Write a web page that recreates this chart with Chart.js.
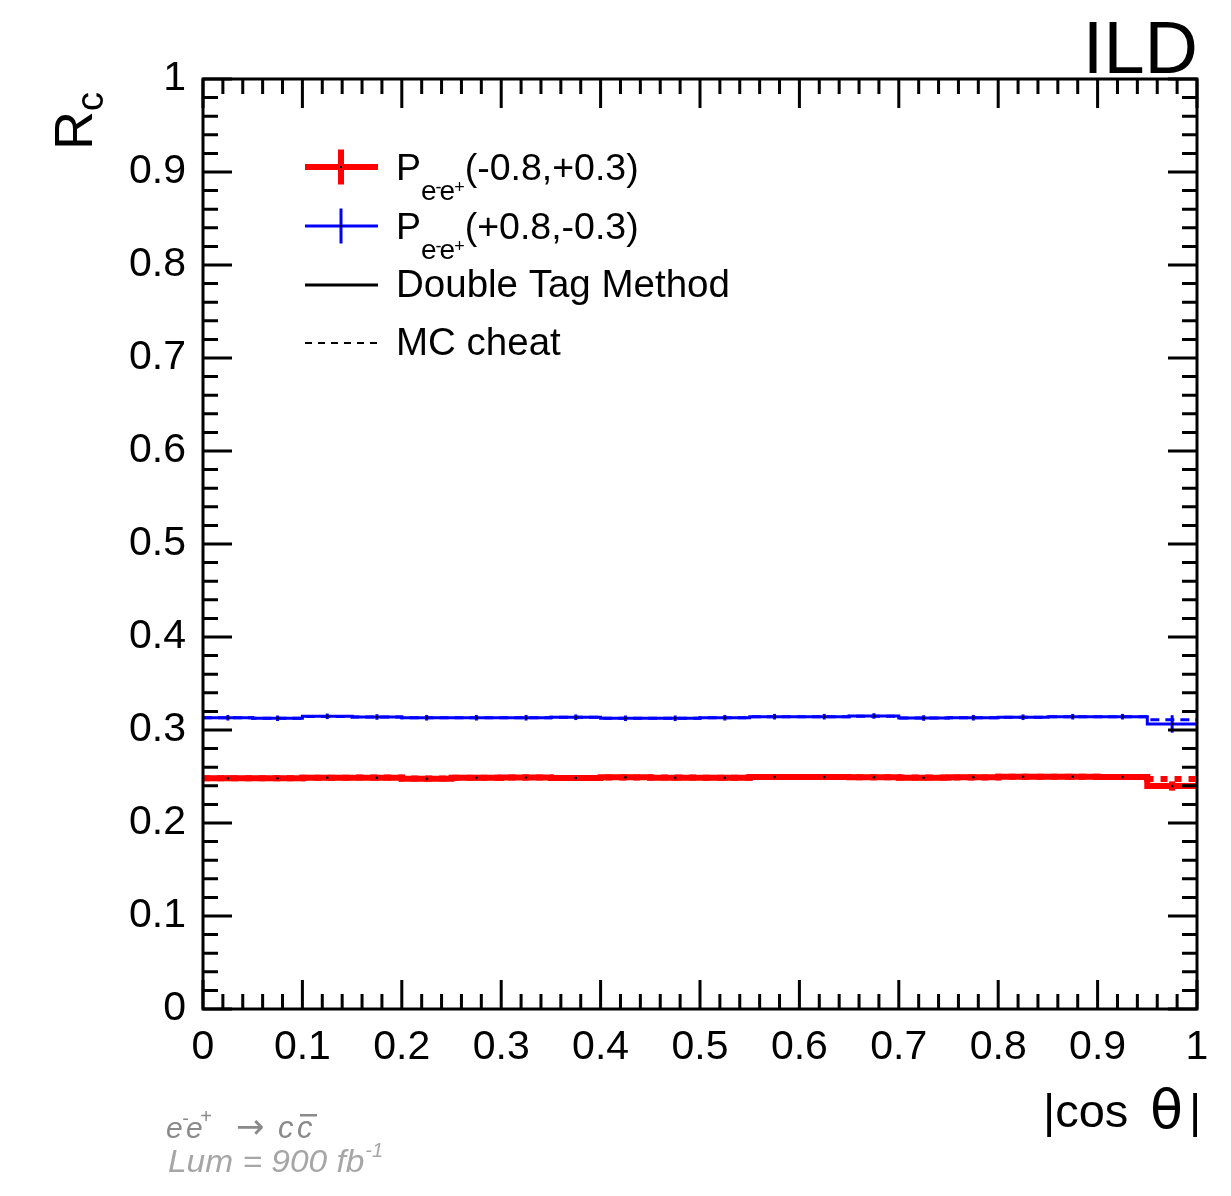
<!DOCTYPE html>
<html>
<head>
<meta charset="utf-8">
<title>R_c vs |cos theta|</title>
<script src="https://cdn.jsdelivr.net/npm/chart.js@4.4.1/dist/chart.umd.min.js"></script>
<style>
  html, body { margin: 0; padding: 0; background: #ffffff; }
  canvas { display: block; }
</style>
</head>
<body>
<canvas id="rcChart" width="1231" height="1196"></canvas>
<script>
// ---- binning in |cos theta| (lower bin edges + last upper edge) ----
const binLowEdges = [0.00, 0.05, 0.10, 0.15, 0.20, 0.25, 0.30, 0.35, 0.40, 0.45,
                     0.50, 0.55, 0.60, 0.65, 0.70, 0.75, 0.80, 0.85, 0.90, 0.95];
const binUpperEdge = 1.00;

// ---- P(e-e+) = (-0.8,+0.3) ----
const rcLeftDoubleTag = [0.2481, 0.2481, 0.2487, 0.2487, 0.2476, 0.2487, 0.2490, 0.2484, 0.2491, 0.2487,
                         0.2487, 0.2495, 0.2495, 0.2491, 0.2487, 0.2491, 0.2498, 0.2498, 0.2495, 0.2398];
const rcLeftMCCheat   = [0.2482, 0.2480, 0.2486, 0.2488, 0.2478, 0.2486, 0.2489, 0.2485, 0.2490, 0.2488,
                         0.2486, 0.2494, 0.2494, 0.2492, 0.2488, 0.2490, 0.2497, 0.2497, 0.2494, 0.2473];
const rcLeftError     = [0.0030, 0.0030, 0.0030, 0.0030, 0.0030, 0.0030, 0.0030, 0.0030, 0.0030, 0.0030,
                         0.0030, 0.0030, 0.0030, 0.0030, 0.0030, 0.0030, 0.0030, 0.0030, 0.0030, 0.0050];

// ---- P(e-e+) = (+0.8,-0.3) ----
const rcRightDoubleTag = [0.3132, 0.3126, 0.3147, 0.3140, 0.3132, 0.3132, 0.3132, 0.3137, 0.3126, 0.3126,
                          0.3132, 0.3143, 0.3143, 0.3151, 0.3129, 0.3132, 0.3137, 0.3143, 0.3143, 0.3065];
const rcRightMCCheat   = [0.3133, 0.3127, 0.3145, 0.3139, 0.3133, 0.3131, 0.3133, 0.3136, 0.3127, 0.3127,
                          0.3133, 0.3142, 0.3142, 0.3149, 0.3130, 0.3133, 0.3136, 0.3142, 0.3142, 0.3111];
const rcRightError     = [0.0030, 0.0030, 0.0030, 0.0030, 0.0030, 0.0030, 0.0030, 0.0030, 0.0030, 0.0030,
                          0.0030, 0.0030, 0.0030, 0.0030, 0.0030, 0.0030, 0.0030, 0.0030, 0.0030, 0.0094];

// ---- axis tick labels ----
const xTickValues = [0, 0.1, 0.2, 0.3, 0.4, 0.5, 0.6, 0.7, 0.8, 0.9, 1];
const yTickValues = [0, 0.1, 0.2, 0.3, 0.4, 0.5, 0.6, 0.7, 0.8, 0.9, 1];
const minorDivisions = 5;

const FONT = '"Liberation Sans", Arial, Helvetica, sans-serif';
const RED = '#ff0000';
const BLUE = '#0000ff';

function binEdge(i) { return i + 1 < binLowEdges.length ? binLowEdges[i + 1] : binUpperEdge; }
function binCenter(i) { return (binLowEdges[i] + binEdge(i)) / 2; }

// step outline of a histogram: one point per lower edge, closing at the upper edge
function stepPoints(values) {
  const pts = binLowEdges.map((x, i) => ({ x: x, y: values[i] }));
  pts.push({ x: binUpperEdge, y: values[values.length - 1] });
  return pts;
}
function centerPoints(values) {
  return binLowEdges.map((x, i) => ({ x: binCenter(i), y: values[i] }));
}

// vertical error bars at bin centres
const errorBarPlugin = {
  id: 'errorBars',
  beforeDatasetsDraw(chart) {
    const { ctx, scales: { x, y } } = chart;
    const series = [
      { v: rcLeftDoubleTag, e: rcLeftError, color: RED, w: 6 },
      { v: rcRightDoubleTag, e: rcRightError, color: BLUE, w: 3 }
    ];
    ctx.save();
    series.forEach(s => {
      ctx.strokeStyle = s.color;
      ctx.lineWidth = s.w;
      s.v.forEach((val, i) => {
        const px = x.getPixelForValue(binCenter(i));
        ctx.beginPath();
        ctx.moveTo(px, y.getPixelForValue(val - s.e[i]));
        ctx.lineTo(px, y.getPixelForValue(val + s.e[i]));
        ctx.stroke();
      });
    });
    ctx.restore();
  }
};

// frame with inward ticks on all four sides
const framePlugin = {
  id: 'frame',
  afterDatasetsDraw(chart) {
    const { ctx, chartArea: a, scales: { x, y } } = chart;
    const majorLen = 29, minorLen = 15;
    ctx.save();
    ctx.strokeStyle = '#000';
    ctx.lineWidth = 3;
    ctx.lineCap = 'butt';
    ctx.beginPath();
    for (let k = 0; k < xTickValues.length; k++) {
      const v = xTickValues[k];
      const px = x.getPixelForValue(v);
      ctx.moveTo(px, a.bottom); ctx.lineTo(px, a.bottom - majorLen);
      ctx.moveTo(px, a.top); ctx.lineTo(px, a.top + majorLen);
      if (k + 1 < xTickValues.length) {
        const step = (xTickValues[k + 1] - v) / minorDivisions;
        for (let m = 1; m < minorDivisions; m++) {
          const mx = x.getPixelForValue(v + m * step);
          ctx.moveTo(mx, a.bottom); ctx.lineTo(mx, a.bottom - minorLen);
          ctx.moveTo(mx, a.top); ctx.lineTo(mx, a.top + minorLen);
        }
      }
    }
    for (let k = 0; k < yTickValues.length; k++) {
      const v = yTickValues[k];
      const py = y.getPixelForValue(v);
      ctx.moveTo(a.left, py); ctx.lineTo(a.left + majorLen, py);
      ctx.moveTo(a.right, py); ctx.lineTo(a.right - majorLen, py);
      if (k + 1 < yTickValues.length) {
        const step = (yTickValues[k + 1] - v) / minorDivisions;
        for (let m = 1; m < minorDivisions; m++) {
          const my = y.getPixelForValue(v + m * step);
          ctx.moveTo(a.left, my); ctx.lineTo(a.left + minorLen, my);
          ctx.moveTo(a.right, my); ctx.lineTo(a.right - minorLen, my);
        }
      }
    }
    ctx.stroke();
    ctx.strokeRect(a.left, a.top, a.right - a.left, a.bottom - a.top);
    ctx.restore();
  }
};

// titles, legend and annotations
const textPlugin = {
  id: 'texts',
  afterDraw(chart) {
    const { ctx } = chart;
    ctx.save();
    ctx.fillStyle = '#000';
    ctx.textBaseline = 'alphabetic';

    // experiment label
    ctx.font = `74px ${FONT}`;
    ctx.textAlign = 'right';
    ctx.fillText('ILD', 1198, 73);

    // x-axis title |cos theta|
    ctx.textAlign = 'left';
    ctx.font = `47px ${FONT}`;
    ctx.fillText('|cos', 1043, 1127);
    ctx.font = `54px "DejaVu Sans", ${FONT}`;
    ctx.fillText('\u03b8', 1150, 1128);
    ctx.font = `47px ${FONT}`;
    ctx.fillText('|', 1189, 1127);

    // y-axis title R_c, rotated
    ctx.save();
    ctx.translate(92, 150);
    ctx.rotate(-Math.PI / 2);
    ctx.textAlign = 'left';
    ctx.font = `54px ${FONT}`;
    ctx.fillText('R', 0, 0);
    const rw = ctx.measureText('R').width;
    ctx.font = `38px ${FONT}`;
    ctx.fillText('c', rw, 11);
    ctx.restore();

    // legend
    ctx.textAlign = 'left';
    const lx0 = 305, lx1 = 378, lxc = 341, tx = 396;
    const LEG = 37.5;
    const polLabel = (base, rest) => {
      let xx = tx;
      ctx.font = `${LEG}px ${FONT}`;
      ctx.fillText('P', xx, base);
      xx += ctx.measureText('P').width;
      ctx.font = `28px ${FONT}`;
      ctx.fillText('e', xx, base + 20);
      xx += ctx.measureText('e').width;
      ctx.font = `18px ${FONT}`;
      ctx.fillText('-', xx - 1, base + 13);
      xx += ctx.measureText('-').width - 3;
      ctx.font = `28px ${FONT}`;
      ctx.fillText('e', xx, base + 20);
      xx += ctx.measureText('e').width;
      ctx.font = `18px ${FONT}`;
      ctx.fillText('+', xx - 1, base + 13);
      xx += ctx.measureText('+').width - 1;
      ctx.font = `${LEG}px ${FONT}`;
      ctx.fillText(rest, xx, base);
    };
    const crossSymbol = (yc, color, w, half) => {
      ctx.strokeStyle = color;
      ctx.lineWidth = w;
      ctx.beginPath();
      ctx.moveTo(lx0, yc); ctx.lineTo(lx1, yc);
      ctx.moveTo(lxc, yc - half); ctx.lineTo(lxc, yc + half);
      ctx.stroke();
      ctx.fillStyle = '#000';
      ctx.fillRect(lxc - 1, yc - 1, 2, 2);
    };
    crossSymbol(167, RED, 6, 17.5);
    ctx.fillStyle = '#000';
    polLabel(180, '(-0.8,+0.3)');
    crossSymbol(226, BLUE, 3, 17.5);
    ctx.fillStyle = '#000';
    polLabel(239, '(+0.8,-0.3)');

    ctx.strokeStyle = '#000';
    ctx.lineWidth = 3;
    ctx.beginPath();
    ctx.moveTo(lx0, 285); ctx.lineTo(lx1, 285);
    ctx.stroke();
    ctx.font = `38.5px ${FONT}`;
    ctx.fillText('Double Tag Method', tx, 297);

    ctx.lineWidth = 2;
    ctx.setLineDash([7, 6]);
    ctx.beginPath();
    ctx.moveTo(lx0, 343); ctx.lineTo(lx1, 343);
    ctx.stroke();
    ctx.setLineDash([]);
    ctx.fillText('MC cheat', tx, 355);

    // process and luminosity annotation
    ctx.fillStyle = '#8a8a8a';
    ctx.font = `italic 30px ${FONT}`;
    ctx.fillText('e', 166, 1138);
    ctx.font = `italic 20px ${FONT}`;
    ctx.fillText('-', 182, 1125);
    ctx.font = `italic 30px ${FONT}`;
    ctx.fillText('e', 186, 1138);
    ctx.font = `italic 20px ${FONT}`;
    ctx.fillText('+', 200, 1123);
    ctx.font = `34px "DejaVu Sans", ${FONT}`;
    ctx.fillText('\u2192', 236, 1138);
    ctx.font = `italic 31px ${FONT}`;
    ctx.fillText('c', 278, 1138);
    ctx.fillText('c', 297, 1138);
    ctx.fillRect(300, 1114, 17, 2.5);

    ctx.fillStyle = '#a6a6a6';
    ctx.font = `italic 31px ${FONT}`;
    const lumText = 'Lum = 900 fb';
    ctx.save();
    ctx.translate(168, 1172);
    ctx.scale(1.08, 1);
    ctx.fillText(lumText, 0, 0);
    const lw = ctx.measureText(lumText).width * 1.08;
    ctx.restore();
    ctx.font = `italic 20px ${FONT}`;
    ctx.fillText('-1', 168 + lw + 1, 1157);

    ctx.restore();
  }
};

const ctx = document.getElementById('rcChart').getContext('2d');
new Chart(ctx, {
  type: 'line',
  data: {
    datasets: [
      { label: 'left points', type: 'scatter', data: centerPoints(rcLeftDoubleTag),
        pointRadius: 1.3, pointBackgroundColor: '#000', pointBorderWidth: 0, showLine: false, order: 0 },
      { label: 'right points', type: 'scatter', data: centerPoints(rcRightDoubleTag),
        pointRadius: 1.3, pointBackgroundColor: '#000', pointBorderWidth: 0, showLine: false, order: 0 },
      { label: 'left double tag', data: stepPoints(rcLeftDoubleTag), stepped: 'before',
        borderColor: RED, borderWidth: 6, pointRadius: 0, fill: false, order: 1 },
      { label: 'right double tag', data: stepPoints(rcRightDoubleTag), stepped: 'before',
        borderColor: BLUE, borderWidth: 3, pointRadius: 0, fill: false, order: 1 },
      { label: 'left MC cheat', data: stepPoints(rcLeftMCCheat), stepped: 'before',
        borderColor: RED, borderWidth: 6, borderDash: [7, 7], pointRadius: 0, fill: false, order: 2 },
      { label: 'right MC cheat', data: stepPoints(rcRightMCCheat), stepped: 'before',
        borderColor: BLUE, borderWidth: 3, borderDash: [9, 6], pointRadius: 0, fill: false, order: 2 }
    ]
  },
  options: {
    responsive: false,
    animation: false,
    devicePixelRatio: 1,
    layout: { padding: { left: 0, top: 79, right: 34, bottom: 0 } },
    plugins: { legend: { display: false }, tooltip: { enabled: false } },
    scales: {
      x: {
        type: 'linear', min: 0, max: 1,
        grid: { display: false, drawTicks: false },
        border: { display: false },
        afterFit(s) { s.height = 187; },
        afterBuildTicks(s) { s.ticks = xTickValues.map(v => ({ value: v })); },
        ticks: {
          padding: 14, maxRotation: 0, autoSkip: false, color: '#000',
          font: { family: FONT, size: 41 },
          callback: v => String(Number(v.toFixed(1)))
        }
      },
      y: {
        type: 'linear', min: 0, max: 1,
        grid: { display: false, drawTicks: false },
        border: { display: false },
        afterFit(s) { s.width = 203; },
        afterBuildTicks(s) { s.ticks = yTickValues.map(v => ({ value: v })); },
        ticks: {
          padding: 17, autoSkip: false, color: '#000',
          font: { family: FONT, size: 41 },
          callback: v => String(Number(v.toFixed(1)))
        }
      }
    }
  },
  plugins: [errorBarPlugin, framePlugin, textPlugin]
});
</script>
</body>
</html>
